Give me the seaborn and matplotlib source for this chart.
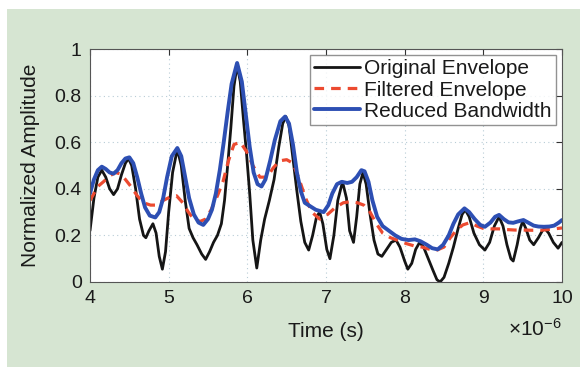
import numpy as np
import matplotlib
matplotlib.use("Agg")
import matplotlib.pyplot as plt
import seaborn as sns
from matplotlib.patches import Rectangle
from matplotlib.ticker import FixedLocator, FuncFormatter

# time in microseconds
orig_t = [4.00, 4.05, 4.10, 4.15, 4.20, 4.25, 4.30, 4.35, 4.40, 4.45, 4.49, 4.53, 4.58, 4.63, 4.68,
          4.71, 4.75, 4.80, 4.84, 4.88, 4.92, 4.96, 5.00, 5.05, 5.11, 5.16, 5.21, 5.26, 5.31, 5.36,
          5.42, 5.47, 5.52, 5.57, 5.62, 5.67, 5.71, 5.75, 5.79, 5.83, 5.87, 5.91, 5.95, 5.99, 6.03,
          6.07, 6.12, 6.17, 6.22, 6.28, 6.34, 6.40, 6.45, 6.49, 6.53, 6.58, 6.63, 6.68, 6.73, 6.78,
          6.83, 6.88, 6.92, 6.96, 7.01, 7.05, 7.10, 7.15, 7.21, 7.26, 7.30, 7.35, 7.39, 7.43, 7.47,
          7.51, 7.56, 7.61, 7.66, 7.71, 7.77, 7.83, 7.89, 7.94, 8.00, 8.04, 8.09, 8.14, 8.19, 8.24,
          8.30, 8.36, 8.41, 8.45, 8.50, 8.56, 8.62, 8.68, 8.73, 8.77, 8.82, 8.88, 8.95, 9.02, 9.08,
          9.14, 9.20, 9.25, 9.30, 9.35, 9.38, 9.43, 9.47, 9.50, 9.54, 9.59, 9.64, 9.70, 9.75, 9.78,
          9.83, 9.89, 9.95, 10.00]
orig_y = [0.22, 0.36, 0.45, 0.48, 0.45, 0.40, 0.375, 0.40, 0.46, 0.51, 0.53, 0.50, 0.40, 0.27, 0.20,
          0.19, 0.22, 0.25, 0.21, 0.11, 0.055, 0.13, 0.30, 0.47, 0.57, 0.50, 0.35, 0.23, 0.19, 0.16,
          0.12, 0.097, 0.13, 0.17, 0.20, 0.25, 0.35, 0.50, 0.66, 0.84, 0.93, 0.86, 0.70, 0.55, 0.38,
          0.18, 0.06, 0.18, 0.27, 0.35, 0.44, 0.58, 0.68, 0.71, 0.67, 0.53, 0.39, 0.26, 0.17, 0.137,
          0.20, 0.28, 0.30, 0.25, 0.14, 0.10, 0.20, 0.35, 0.43, 0.36, 0.22, 0.17, 0.28, 0.42, 0.47,
          0.42, 0.29, 0.18, 0.12, 0.11, 0.14, 0.17, 0.18, 0.15, 0.09, 0.055, 0.08, 0.14, 0.17, 0.15,
          0.10, 0.05, 0.01, 0.0, 0.02, 0.08, 0.15, 0.23, 0.29, 0.31, 0.28, 0.21, 0.16, 0.137, 0.17,
          0.24, 0.28, 0.24, 0.16, 0.10, 0.09, 0.16, 0.23, 0.26, 0.23, 0.18, 0.16, 0.19, 0.22, 0.23,
          0.21, 0.17, 0.145, 0.17]

filt_t = [4.00, 4.05, 4.10, 4.17, 4.25, 4.32, 4.38, 4.45, 4.52, 4.60, 4.68, 4.77, 4.85, 4.93, 5.02,
          5.10, 5.18, 5.25, 5.32, 5.40, 5.47, 5.54, 5.62, 5.69, 5.76, 5.83, 5.91, 5.99, 6.07, 6.16,
          6.25, 6.33, 6.41, 6.50, 6.58, 6.66, 6.74, 6.82, 6.92, 7.02, 7.12, 7.22, 7.31, 7.40, 7.48,
          7.56, 7.64, 7.72, 7.82, 7.92, 8.02, 8.12, 8.22, 8.32, 8.41, 8.50, 8.58, 8.66, 8.74, 8.83,
          8.92, 9.00, 9.10, 9.20, 9.30, 9.40, 9.51, 9.62, 9.73, 9.85, 10.00]
filt_y = [0.35, 0.38, 0.41, 0.43, 0.455, 0.47, 0.465, 0.44, 0.41, 0.37, 0.34, 0.33, 0.33, 0.35, 0.365,
          0.37, 0.34, 0.30, 0.27, 0.26, 0.27, 0.31, 0.37, 0.43, 0.52, 0.59, 0.60, 0.56, 0.50, 0.45,
          0.45, 0.49, 0.52, 0.525, 0.51, 0.44, 0.36, 0.30, 0.27, 0.29, 0.32, 0.34, 0.345, 0.34, 0.33,
          0.30, 0.25, 0.21, 0.19, 0.178, 0.165, 0.155, 0.15, 0.14, 0.137, 0.15, 0.19, 0.223, 0.245, 0.255,
          0.24, 0.23, 0.228, 0.228, 0.225, 0.223, 0.223, 0.222, 0.222, 0.226, 0.232]

rbw_t = [4.00, 4.05, 4.10, 4.15, 4.20, 4.25, 4.30, 4.35, 4.40, 4.45, 4.50, 4.55, 4.60, 4.65, 4.70,
         4.76, 4.83, 4.88, 4.93, 4.98, 5.04, 5.11, 5.16, 5.21, 5.26, 5.32, 5.38, 5.44, 5.50, 5.55,
         5.60, 5.65, 5.70, 5.75, 5.80, 5.87, 5.93, 5.98, 6.03, 6.08, 6.13, 6.18, 6.23, 6.29, 6.35,
         6.42, 6.48, 6.53, 6.58, 6.63, 6.68, 6.73, 6.80, 6.87, 6.97, 7.03, 7.08, 7.14, 7.20, 7.27,
         7.33, 7.39, 7.45, 7.49, 7.54, 7.59, 7.65, 7.72, 7.80, 7.88, 7.96, 8.05, 8.13, 8.20, 8.28,
         8.35, 8.42, 8.49, 8.56, 8.62, 8.68, 8.76, 8.82, 8.89, 8.96, 9.02, 9.09, 9.15, 9.20, 9.26,
         9.32, 9.38, 9.44, 9.51, 9.57, 9.64, 9.70, 9.77, 9.84, 9.90, 9.96, 10.00]
rbw_y = [0.38, 0.44, 0.48, 0.495, 0.485, 0.47, 0.465, 0.48, 0.51, 0.53, 0.535, 0.51, 0.45, 0.38, 0.32,
         0.285, 0.277, 0.30, 0.36, 0.45, 0.54, 0.575, 0.54, 0.45, 0.36, 0.29, 0.255, 0.245, 0.27, 0.31,
         0.38, 0.48, 0.60, 0.73, 0.85, 0.94, 0.86, 0.72, 0.58, 0.47, 0.42, 0.41, 0.44, 0.52, 0.61,
         0.69, 0.71, 0.68, 0.59, 0.47, 0.39, 0.34, 0.325, 0.31, 0.30, 0.33, 0.38, 0.42, 0.43, 0.425,
         0.43, 0.45, 0.48, 0.475, 0.43, 0.35, 0.28, 0.24, 0.22, 0.20, 0.185, 0.18, 0.183, 0.175, 0.16,
         0.145, 0.14, 0.16, 0.20, 0.25, 0.29, 0.316, 0.30, 0.27, 0.245, 0.237, 0.255, 0.28, 0.288, 0.27,
         0.256, 0.254, 0.26, 0.266, 0.255, 0.242, 0.238, 0.237, 0.238, 0.242, 0.255, 0.266]

labels = ["Original Envelope", "Filtered Envelope", "Reduced Bandwidth"]
x_ticks = [4, 5, 6, 7, 8, 9, 10]
y_ticks = [0, 0.2, 0.4, 0.6, 0.8, 1.0]

sns.set_style("white")
plt.rcParams['font.family'] = ['Liberation Sans', 'DejaVu Sans']
plt.rcParams['mathtext.fontset'] = 'custom'
plt.rcParams['mathtext.rm'] = 'Liberation Sans'
plt.rcParams['mathtext.it'] = 'Liberation Sans'
plt.rcParams['lines.solid_joinstyle'] = 'round'

txt = '#1a1a1a'
fig = plt.figure(figsize=(5.8, 3.67), dpi=100, facecolor='white')
fig.patches.append(Rectangle((7 / 580, 0), 1, 1 - 9 / 367, transform=fig.transFigure,
                             facecolor='#d6e5d2', edgecolor='none', zorder=-10))
ax = fig.add_axes([90 / 580, 1 - 282 / 367, 472 / 580, 233 / 367])
ax.set_facecolor('white')

sns.lineplot(x=np.array(orig_t) * 1e-6, y=orig_y, ax=ax, color='#151515', lw=2.0,
             label=labels[0], estimator=None)
sns.lineplot(x=np.array(filt_t) * 1e-6, y=filt_y, ax=ax, color='#ec4a30', lw=2.3,
             label=labels[1], estimator=None)
ax.lines[-1].set_linestyle((0, (3, 2.2)))
sns.lineplot(x=np.array(rbw_t) * 1e-6, y=rbw_y, ax=ax, color='#2d4fb3', lw=2.8,
             label=labels[2], estimator=None)

ax.set_xlim(4e-6, 10e-6)
ax.set_ylim(0, 1)
ax.xaxis.set_major_locator(FixedLocator(np.array(x_ticks) * 1e-6))
ax.xaxis.set_major_formatter(FuncFormatter(lambda v, p: '%g' % round(v * 1e6, 6)))
ax.yaxis.set_major_locator(FixedLocator(y_ticks))
ax.yaxis.set_major_formatter(FuncFormatter(lambda v, p: '%g' % v))

ax.grid(True, linestyle=(0, (1, 3)), color='#b8ccd6', lw=0.8)
ax.tick_params(direction='in', length=4, width=0.8, colors='#333333',
               top=True, right=True, labelsize=14, labelcolor=txt)
ax.tick_params(axis='x', pad=6)
ax.tick_params(axis='y', pad=6)
for s in ax.spines.values():
    s.set_color('#555555')
    s.set_linewidth(0.8)

ax.set_xlabel('Time (s)', fontsize=15, color=txt)
ax.xaxis.set_label_coords(0.5, -0.17)
ax.set_ylabel('Normalized Amplitude', fontsize=15, color=txt)
ax.yaxis.set_label_coords(-0.105, 0.5)
ax.text(1.0, -0.2, r'$\times10^{-6}$', transform=ax.transAxes, ha='right', va='center',
        fontsize=15, color=txt)

leg = ax.legend(loc='upper right', fontsize=15, frameon=True, fancybox=False,
                handlelength=2.2, handletextpad=0.2, borderpad=0.2, labelspacing=0.1,
                borderaxespad=0.3)
leg.get_frame().set_edgecolor('#777777')
leg.get_frame().set_linewidth(1.0)
for t in leg.get_texts():
    t.set_color(txt)

fig.savefig('out.png', dpi=100, facecolor=fig.get_facecolor())
